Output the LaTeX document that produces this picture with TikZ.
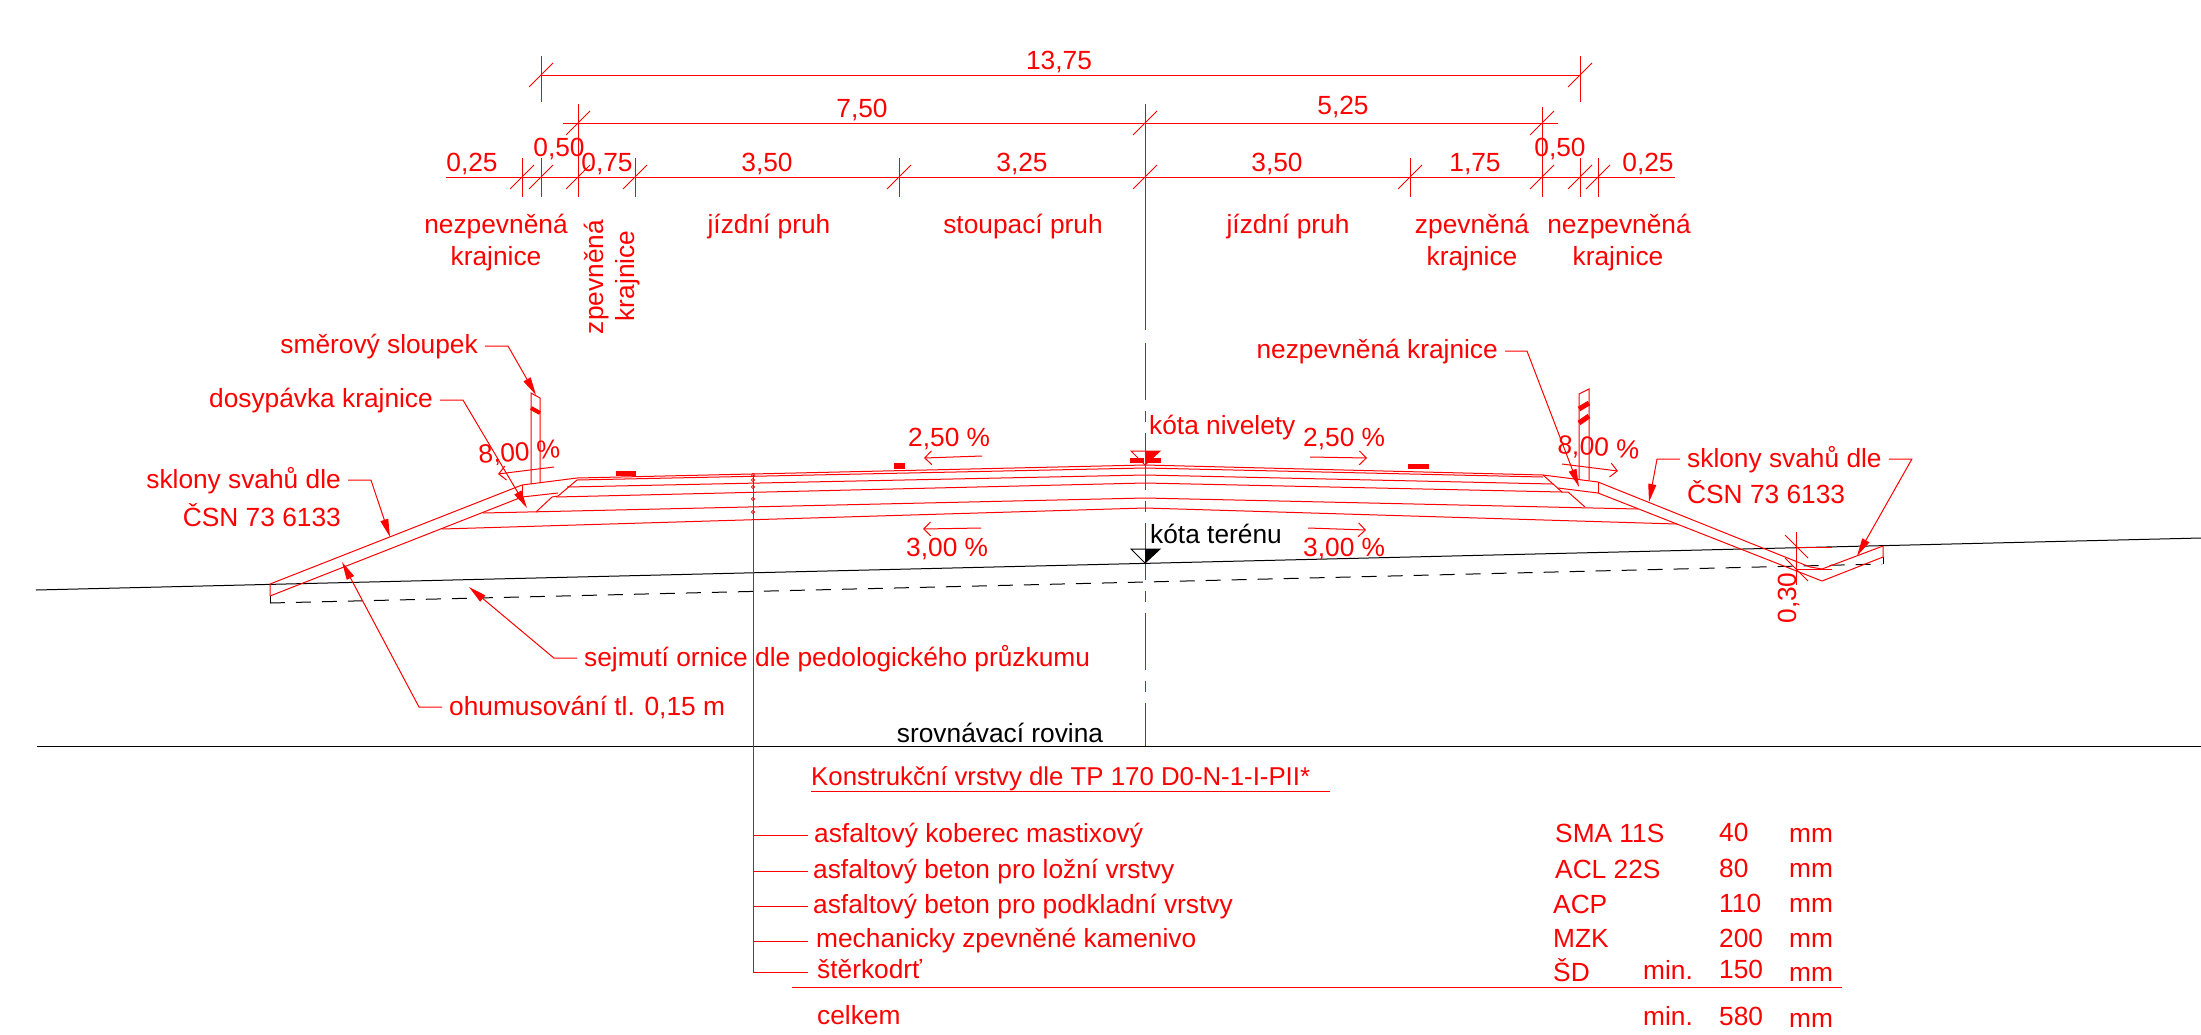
\documentclass[tikz,border=0pt]{standalone}
\usepackage{fontspec}
\setmainfont{Liberation Sans}
\usepackage{tikz}
\usetikzlibrary{arrows.meta}
\usetikzlibrary{positioning}
\newcommand{\rnode}[5][]{\node[rtext,#1] (#2) at (#3,#4) {#5}}
\newcommand{\dimslash}[2]{\draw[redline] (#1,#2) ++(-12,12) -- ++(24,-24)}
\newcommand{\dimmark}[4]{\draw[redline] (#1,#3) -- (#1,#4); \dimslash{#1}{#2}}
\newcommand{\layerrow}[5]{\rnode[anchor=base west]{#1}{#2}{#3}{#4}; \draw[redline] (stem |- #1.base) ++(0,-#5) -- +(55,0)}

\begin{document}
\begin{tikzpicture}[
        x=1pt,y=-1pt,
        every node/.style={font=\fontsize{26.3}{30}\selectfont},
        rtext/.style={text=red,anchor=base,inner sep=0pt},
        btext/.style={rtext,text=black},
        redline/.style={draw=red,line width=1pt},
        blackline/.style={draw=black,line width=1pt},
        bar/.style={fill=red,draw=none},
        leader/.style={redline,shorten <=7pt,-{Triangle[length=18pt,width=8pt]}},
        slopearrow/.style={redline,-{Straight Barb[length=7pt,width=14pt]}}
      ]
      \useasboundingbox (0,0) rectangle (2201,1034);
      % dimension lines
      \draw[redline] (541,75) -- (1580,75);
      \draw[redline] (563,123) -- (1558,123);
      \draw[redline] (446,177) -- (1675,177);
      \dimmark{541}{75}{56}{102}; \dimmark{1580}{75}{56}{102};
      \dimmark{578}{123}{104}{197}; \dimmark{1542}{123}{107}{197};
      \dimmark{522}{177}{158}{197}; \dimmark{541}{177}{158}{197};
      \dimslash{578}{177}; \dimmark{635}{177}{158}{197};
      \dimmark{899}{177}{158}{197}; \dimslash{1145}{123}; \dimslash{1145}{177};
      \dimmark{1410}{177}{158}{197}; \dimslash{1542}{177};
      \dimmark{1580}{177}{158}{197}; \dimmark{1598}{177}{158}{197};
      \rnode{d1375}{1059}{69}{13,75};
      \rnode{d750}{862}{117}{7,50};
      \rnode{d525}{1343}{114}{5,25};
      \rnode{dl025}{472}{171}{0,25};
      \rnode{dl050}{559}{156}{0,50};
      \rnode{dl075}{607}{171}{0,75};
      \rnode{dl350}{767}{171}{3,50};
      \rnode{d325}{1022}{171}{3,25};
      \rnode{dr350}{1277}{171}{3,50};
      \rnode{d175}{1475}{171}{1,75};
      \rnode{dr050}{1560}{156}{0,50};
      \rnode{dr025}{1648}{171}{0,25};
      % lane names
      \rnode{nezpA}{496}{233}{nezpevněná};
      \rnode{krajA}{496}{265}{krajnice};
      \rnode[rotate=90]{zpevA}{603}{277}{zpevněná};
      \rnode[rotate=90]{krajB}{634}{276}{krajnice};
      \rnode{pruhA}{769}{233}{jízdní pruh};
      \rnode{stoup}{1023}{233}{stoupací pruh};
      \rnode{pruhB}{1288}{233}{jízdní pruh};
      \rnode{zpevB}{1472}{233}{zpevněná};
      \rnode{krajC}{1472}{265}{krajnice};
      \rnode{nezpB}{1619}{233}{nezpevněná};
      \rnode{krajD}{1618}{265}{krajnice};
      % axis
      \draw[redline] (1145,104) -- (1145,330);
      \draw[redline,dash pattern=on 57pt off 11pt on 11pt off 11pt] (1145,343) -- (1145,746);
      % terrain
      \draw[blackline] (36,590) -- (2201,538);
      \draw[blackline] (37,746) -- (2201,746);
      \draw[blackline,dash pattern=on 15pt off 11pt] (270,603) -- (1145,582) -- (1882,564);
      \draw[blackline] (270,596) -- (270,603);
      \draw[blackline] (1883,557) -- (1883,564);
      % road body
      \draw[redline,line join=bevel] (270,596) -- (270,584) -- (522,485) -- (577,478) -- (1145,465) -- (1543,475) -- (1598,482) -- (1810,567) -- (1822,569) -- (1883,546) -- (1883,557) -- (1822,581) -- (1598,493) -- (1558,488);
      \draw[redline] (270,596) -- (522,497) -- (558,493);
      \draw[redline] (522,485) -- (522,497);
      \draw[redline] (1598,482) -- (1598,493);
      \draw[redline] (577,480) -- (1145,468) -- (1543,477);
      \draw[redline] (567,487) -- (1145,475) -- (1553,484);
      \draw[redline] (556,497) -- (1145,483) -- (1562,492);
      \draw[redline] (483,513) -- (1145,498) -- (1638,509);
      \draw[redline] (442,529) -- (1145,508) -- (1677,524);
      \draw[redline] (577,480) -- (558,496) -- (552,497) -- (536,512);
      \draw[redline] (1543,475) -- (1562,492) -- (1568,492) -- (1585,507);
      % posts
      \draw[redline] (531,484) -- (531,393) -- (540,398) -- (540,483);
      \draw[red,line width=4pt] (531,408) -- (540,413);
      \draw[redline] (1579,479) -- (1579,394) -- (1589,389) -- (1589,480);
      \draw[red,line width=5pt] (1579,409) -- (1589,403);
      \draw[red,line width=5pt] (1579,423) -- (1589,416);
      % marks on the road
      \fill[bar] (616,471) rectangle (636,476);
      \fill[bar] (894,463) rectangle (905,469);
      \fill[bar] (1408,464) rectangle (1429,469);
      \fill[bar] (1130,458) rectangle (1144,463);
      \fill[bar] (1146,458) rectangle (1161,463);
      \draw[redline] (1131,451) -- (1160,451) -- (1145,465) -- cycle;
      \fill[red] (1145,451) -- (1160,451) -- (1145,465) -- cycle;
      \draw[blackline] (1131,549) -- (1160,549) -- (1145,563) -- cycle;
      \fill[black] (1145,549) -- (1160,549) -- (1145,563) -- cycle;
      \rnode[anchor=base west]{nivel}{1149}{434}{kóta nivelety};
      \node[btext,anchor=base west] (teren) at (1150,543) {kóta terénu};
      % gradients
      \rnode[anchor=base west]{spadA}{908}{446}{2,50 \%};
      \rnode[anchor=base west]{spadB}{1303}{446}{2,50 \%};
      \rnode[anchor=base west]{spadC}{906}{556}{3,00 \%};
      \rnode[anchor=base west]{spadD}{1303}{556}{3,00 \%};
      \rnode[anchor=base west,rotate=4.6]{spadE}{479}{464}{8,00 \%};
      \rnode[anchor=base west,rotate=-4.6]{spadF}{1557}{453}{8,00 \%};
      \draw[slopearrow] (982,456) -- (924,458);
      \draw[slopearrow] (1310,457) -- (1367,458);
      \draw[slopearrow] (981,528) -- (923,529);
      \draw[slopearrow] (1308,528) -- (1366,530);
      \draw[slopearrow] (554,467) -- (498,474);
      \draw[slopearrow] (1562,464) -- (1618,471);
      % leaders
      \rnode[anchor=base east]{smer}{478}{353}{směrový sloupek};
      \rnode[anchor=base east]{dosyp}{433}{407}{dosypávka krajnice};
      \rnode[anchor=base east]{sklonA}{341}{488}{sklony svahů dle};
      \rnode[anchor=base east]{csnA}{341}{526}{ČSN 73 6133};
      \rnode[anchor=base east]{nezpL}{1498}{358}{nezpevněná krajnice};
      \rnode[anchor=base west]{sklonB}{1687}{467}{sklony svahů dle};
      \rnode[anchor=base west]{csnB}{1687}{503}{ČSN 73 6133};
      \rnode[anchor=base west]{ornice}{584}{666}{sejmutí ornice dle pedologického průzkumu};
      \rnode[anchor=base west]{humus}{449}{715}{ohumusování tl. 0,15 m};
      \coordinate (smerTip) at (536,395);
      \coordinate (dosypTip) at (527,508);
      \coordinate (sklonATip) at (390,537);
      \coordinate (nezpTip) at (1579,487);
      \coordinate (sklonBTip) at (1649,502);
      \coordinate (sklonCTip) at (1857,556);
      \coordinate (orniceTip) at (469,587);
      \coordinate (humusTip) at (342,562);
      \draw[leader] (smer.east) -- ++(30,0) -- (smerTip);
      \draw[leader] (dosyp.east) -- ++(30,0) -- (dosypTip);
      \draw[leader] (sklonA.east) -- ++(30,0) -- (sklonATip);
      \draw[leader] (nezpL.east) -- ++(29,0) -- (nezpTip);
      \draw[leader] (sklonB.west) -- ++(-30,0) -- (sklonBTip);
      \draw[leader] (sklonB.east) -- ++(30,0) -- (sklonCTip);
      \draw[leader] (ornice.west) -- ++(-30,0) -- (orniceTip);
      \draw[leader] (humus.west) -- ++(-30,0) -- (humusTip);
      % ditch depth
      \draw[redline] (1796,532) -- (1796,585);
      \draw[redline] (1796,547) -- (1832,547);
      \draw[redline] (1796,569) -- (1832,569);
      \draw[redline] (1785,535) -- (1808,558);
      \draw[redline] (1785,558) -- (1808,581);
      \rnode[rotate=90]{hloubka}{1796}{598}{0,30};
      \node[btext] (rovina) at (1000,742) {srovnávací rovina};
      % layers
      \coordinate (stem) at (753,475);
      \draw[redline] (753,475) -- (753,972);
      \foreach \y in {475,480,487,499,512} \draw[draw=red,line width=0.7pt] (753,\y) circle (1.6pt);
      \rnode[anchor=base west,font=\fontsize{25.8}{30}\selectfont]{vrstvy}{811}{785}{Konstrukční vrstvy dle TP 170 D0-N-1-I-PII*};
      \draw[redline] (vrstvy.base west) ++(0,6) -- (1330,791);
      \layerrow{koberec}{814}{842}{asfaltový koberec mastixový}{7};
      \layerrow{lozni}{813}{878}{asfaltový beton pro ložní vrstvy}{7};
      \layerrow{podkl}{813}{913}{asfaltový beton pro podkladní vrstvy}{7};
      \layerrow{mech}{816}{947}{mechanicky zpevněné kamenivo}{6};
      \layerrow{sterk}{817}{978}{štěrkodrť}{6};
      \draw[redline] (792,987) -- (1842,987);
      \rnode[anchor=base west]{celkem}{817}{1024}{celkem};
      \rnode[anchor=base west]{sma}{1555}{842}{SMA 11S};
      \rnode[anchor=base west]{acl}{1555}{878}{ACL 22S};
      \rnode[anchor=base west]{acp}{1553}{913}{ACP};
      \rnode[anchor=base west]{mzk}{1553}{947}{MZK};
      \rnode[anchor=base west]{sd}{1553}{981}{ŠD};
      \rnode[anchor=base west]{minA}{1643}{979}{min.};
      \rnode[anchor=base west]{minB}{1643}{1025}{min.};
      \rnode[anchor=base west]{tlA}{1719}{841}{40};
      \rnode[anchor=base west]{tlB}{1719}{877}{80};
      \rnode[anchor=base west]{tlC}{1719}{912}{110};
      \rnode[anchor=base west]{tlD}{1719}{947}{200};
      \rnode[anchor=base west]{tlE}{1719}{978}{150};
      \rnode[anchor=base west]{tlF}{1719}{1025}{580};
      \rnode[anchor=base west]{mmA}{1789}{842}{mm};
      \rnode[anchor=base west]{mmB}{1789}{877}{mm};
      \rnode[anchor=base west]{mmC}{1789}{912}{mm};
      \rnode[anchor=base west]{mmD}{1789}{947}{mm};
      \rnode[anchor=base west]{mmE}{1789}{981}{mm};
      \rnode[anchor=base west]{mmF}{1789}{1027}{mm};
    \end{tikzpicture}
\end{document}
